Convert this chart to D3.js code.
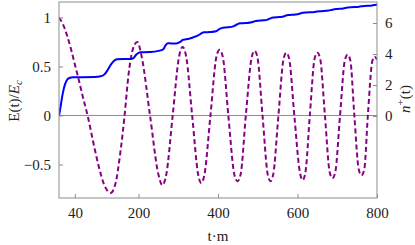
<!DOCTYPE html>
<html><head><meta charset="utf-8">
<script src="https://cdn.jsdelivr.net/npm/d3@7"></script>
<style>body{margin:0;background:#fff}svg{display:block}
svg text{font-family:Liberation Serif,DejaVu Serif,serif !important;}</style>
</head><body>
<svg id="c" width="415" height="245"></svg>
<script>
// n+(t) (right axis), blue solid
const nT = [0,4,8,12,16,20,26,35,60,90,105,115,122,130,138,146,160,180,188,194,200,205,212,230,250,262,268,274,282,295,305,312,320,335,350,358,365,380,395,404,412,425,440,449,455,470,485,493,500,515,525,532,540,555,565,573,580,595,605,613,622,640,650,660,678,688,698,715,726,735,752,761,770,785,794,800];
const nV = [0,0.6,1.25,1.75,2.1,2.32,2.45,2.5,2.5,2.51,2.56,2.7,2.95,3.3,3.55,3.66,3.68,3.68,3.75,3.95,4.08,4.12,4.12,4.13,4.2,4.3,4.55,4.7,4.68,4.68,4.78,4.92,4.95,5.05,5.2,5.33,5.4,5.42,5.47,5.62,5.7,5.72,5.8,5.92,5.98,6.0,6.05,6.12,6.15,6.17,6.22,6.3,6.35,6.38,6.42,6.5,6.52,6.55,6.6,6.66,6.68,6.7,6.74,6.76,6.8,6.86,6.9,6.94,7.0,7.02,7.04,7.08,7.1,7.12,7.16,7.17];
// E(t)/E_c (left axis), purple dashed
const eT = [0,10,20,30,40,50,60,72,85,100,115,130,143,153,165,175,186,197,208,229,250,260,270,286,302,311,320,335,350,358,366,381,396,404,412,426,441,449,457,470,485,492,499,512,525,532,539,552,565,572,579,592,606,613,620,631,643,650,657,669,681,688,695,707,719,726,733,743,754,761,768,777,788,794,800];
const eV = [1.0,0.93,0.82,0.68,0.52,0.36,0.19,0.0,-0.25,-0.52,-0.72,-0.79,-0.68,-0.42,0.0,0.42,0.68,0.75,0.6,0.0,-0.6,-0.71,-0.6,0.0,0.6,0.70,0.6,0.0,-0.6,-0.69,-0.6,0.0,0.6,0.67,0.6,0.0,-0.6,-0.67,-0.6,0.0,0.6,0.66,0.6,0.0,-0.6,-0.67,-0.6,0.0,0.58,0.64,0.58,0.0,-0.58,-0.66,-0.58,0.0,0.58,0.64,0.58,0.0,-0.58,-0.64,-0.58,0.0,0.56,0.62,0.56,0.0,-0.55,-0.61,-0.55,0.0,0.55,0.60,0.57];
const xTicks = [40,200,400,600,800];
const yLeftTicks = [-0.5,0,0.5,1];
const yRightTicks = [0,2,4,6];

const svg = d3.select('#c');
const L = 59, R = 377, T = 2, B = 198;
const x = d3.scaleLinear().domain([0,800]).range([L,R]);
const yL = d3.scaleLinear().domain([-0.842,1.158]).range([B,T]);
const yR = d3.scaleLinear().domain([-5.29,7.355]).range([B,T]);
const font = 'Liberation Serif, DejaVu Serif, serif';
const gray = '#8c8c8c';

// zero line
svg.append('line').attr('x1',L).attr('x2',R).attr('y1',yL(0)).attr('y2',yL(0))
  .attr('stroke',gray).attr('stroke-width',1);

// data lines
svg.append('clipPath').attr('id','cp').append('rect')
  .attr('x',L).attr('y',T).attr('width',R-L).attr('height',B-T);
const eData = eT.map((t,i)=>[t,eV[i]]);
const nData = nT.map((t,i)=>[t,nV[i]]);
svg.append('path').datum(eData).attr('clip-path','url(#cp)')
  .attr('d', d3.line().x(d=>x(d[0])).y(d=>yL(d[1])).curve(d3.curveMonotoneX))
  .attr('fill','none').attr('stroke','#850085').attr('stroke-width',2)
  .attr('stroke-dasharray','5,3');
svg.append('path').datum(nData).attr('clip-path','url(#cp)')
  .attr('d', d3.line().x(d=>x(d[0])).y(d=>yR(d[1])).curve(d3.curveMonotoneX))
  .attr('fill','none').attr('stroke','#0000ff').attr('stroke-width',2);

// frame
svg.append('rect').attr('x',L).attr('y',T).attr('width',R-L).attr('height',B-T)
  .attr('fill','none').attr('stroke',gray).attr('stroke-width',1);

// axes with inward ticks
const fmt = d => d < 0 ? '\u2212' + Math.abs(d) : String(d);
const ax = svg.append('g').attr('transform',`translate(0,${B})`)
  .call(d3.axisBottom(x).tickValues(xTicks).tickSizeInner(-4).tickSizeOuter(0).tickPadding(9).tickFormat(fmt));
const al = svg.append('g').attr('transform',`translate(${L},0)`)
  .call(d3.axisLeft(yL).tickValues(yLeftTicks).tickSizeInner(-4).tickSizeOuter(0).tickPadding(8).tickFormat(fmt));
const ar = svg.append('g').attr('transform',`translate(${R},0)`)
  .call(d3.axisRight(yR).tickValues(yRightTicks).tickSizeInner(-4).tickSizeOuter(0).tickPadding(8).tickFormat(fmt));
[ax,al,ar].forEach(g=>{
  g.attr('font-family',font).attr('font-size',15);
  g.select('.domain').remove();
  g.selectAll('line').attr('stroke',gray);
  g.selectAll('text').attr('fill','#222');
});

// axis titles
svg.append('text').attr('x',218).attr('y',241).attr('text-anchor','middle')
  .attr('font-family',font).attr('font-size',15).attr('fill','#222').text('t\u00b7m');

const lt = svg.append('text').attr('transform','translate(19,101) rotate(-90)')
  .attr('text-anchor','middle').attr('font-family',font).attr('font-size',15).attr('fill','#222');
lt.append('tspan').text('E(t)/');
lt.append('tspan').attr('font-style','italic').text('E');
lt.append('tspan').attr('font-style','italic').attr('font-size',11).attr('dy',3).text('c');

const rt = svg.append('text').attr('transform','translate(410,99) rotate(-90)')
  .attr('text-anchor','middle').attr('font-family',font).attr('font-size',15).attr('fill','#222');
rt.append('tspan').attr('font-style','italic').text('n');
rt.append('tspan').attr('font-size',11).attr('dy',-6).text('+');
rt.append('tspan').attr('dy',6).text('(t)');
</script>
</body></html>
